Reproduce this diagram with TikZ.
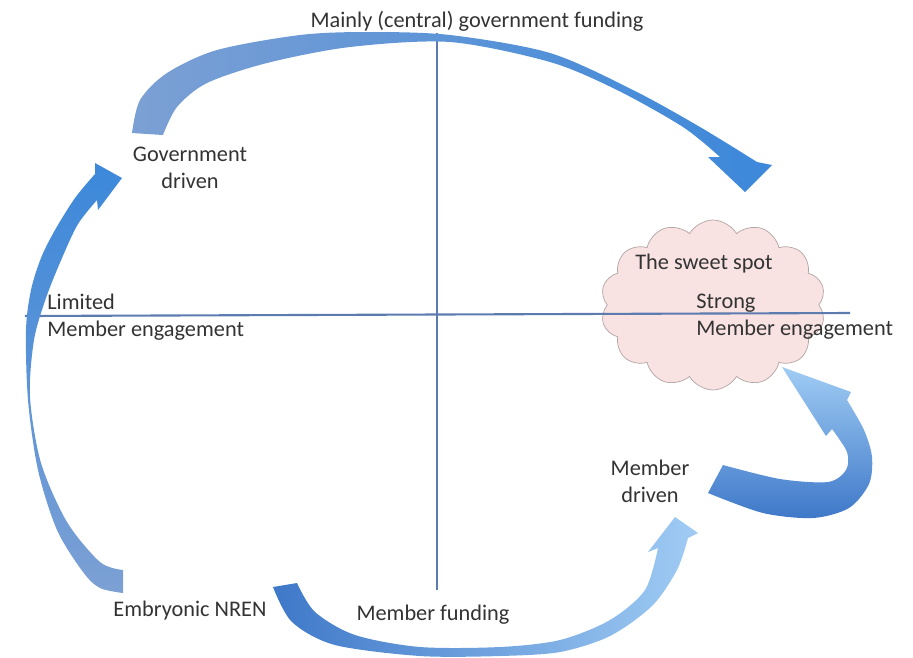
\documentclass[tikz,border=0pt]{standalone}
\usepackage{fontspec}
\setmainfont{Carlito}
\usetikzlibrary{shapes.symbols}
\definecolor{axisblue}{RGB}{92,124,176}
\definecolor{steelblue}{RGB}{124,160,212}
\definecolor{brightblue}{RGB}{60,136,218}
\definecolor{deepblue}{RGB}{62,120,200}
\definecolor{paleblue}{RGB}{160,204,244}
\definecolor{cloudpink}{RGB}{248,226,226}
\definecolor{cloudline}{RGB}{180,164,164}
\begin{document}
\begin{tikzpicture}[x=0.02cm,y=-0.02cm,
  lbl/.style={font=\fontsize{12.7}{15.3}\selectfont, text=black!80, align=center, inner sep=0pt},
  axis/.style={draw=axisblue, line width=1.2pt}]
\useasboundingbox (0,0) rectangle (913,657);

% the sweet spot
\node[cloud, cloud puffs=14, cloud puff arc=120, aspect=1.3, draw=cloudline, fill=cloudpink,
  minimum width=4.5cm, minimum height=3.4cm] (sweet) at (713,305) {};

% axes
\coordinate (top) at (437,33);
\coordinate (bottom) at (437,590);
\coordinate (left) at (25,316);
\coordinate (right) at (850,313);
\draw[axis] (top) -- (bottom);
\draw[axis] (left) -- (right);

% government funding arrow
\path[left color=steelblue, right color=brightblue]
  plot[smooth] coordinates {(132,133) (140,100) (167,73) (217,50) (300,35) (367,32) (450,35) (550,53) (633,90) (700,127) (757,162)}
  -- (772,165) -- (745,192) -- (708,157) --
  plot[smooth] coordinates {(720,157) (683,127) (617,90) (550,62) (450,42) (350,47) (267,63) (207,83) (177,107) (163,135)}
  -- cycle;

% embryonic -> government driven
\path[top color=brightblue, bottom color=steelblue]
  plot[smooth] coordinates {(123,593) (100,588) (83,572) (57,530) (38,470) (28,400) (26,330) (31,290) (41,258) (55,230) (75,198) (95,174)}
  -- (95,163) -- (122,178) -- (98,210) --
  plot[smooth] coordinates {(97,200) (78,224) (62,258) (46,298) (34,340) (30,397) (41,463) (67,522) (100,562) (123,570)}
  -- cycle;

% member funding arrow
\path[left color=deepblue, right color=paleblue]
  plot[smooth] coordinates {(273,587) (292,622) (335,645) (420,656) (500,656) (560,652) (610,636) (652,606) (677,570) (688,538)}
  -- (698,533) -- (675,517) -- (648,552) --
  plot[smooth] coordinates {(658,548) (645,590) (610,620) (560,640) (500,647) (420,647) (355,635) (315,612) (297,583)}
  -- cycle;

% member driven -> sweet spot
\path[top color=paleblue, bottom color=deepblue]
  plot[smooth] coordinates {(708,493) (763,513) (813,518) (849,508) (869,484) (872,457) (864,430) (847,400)}
  -- (851,392) -- (782,367) -- (826,436) --
  plot[smooth] coordinates {(832,429) (847,452) (846,470) (828,482) (780,479) (723,465)}
  -- cycle;

% labels
\node[lbl] (funding) at (477,21) {Mainly (central) government funding};
\node[lbl] (gov) at (190,168) {Government\\driven};
\node[lbl, anchor=west, align=left] (limited) at (47,317) {Limited\\Member engagement};
\node[lbl] (spot) at (704,264) {The sweet spot};
\node[lbl, anchor=west, align=left] (strong) at (696,317) {Strong\\Member engagement};
\node[lbl] (member) at (650,481) {Member\\driven};
\node[lbl] (embryo) at (190,611) {Embryonic NREN};
\node[lbl] (mfund) at (433,615) {Member funding};
\end{tikzpicture}
\end{document}
